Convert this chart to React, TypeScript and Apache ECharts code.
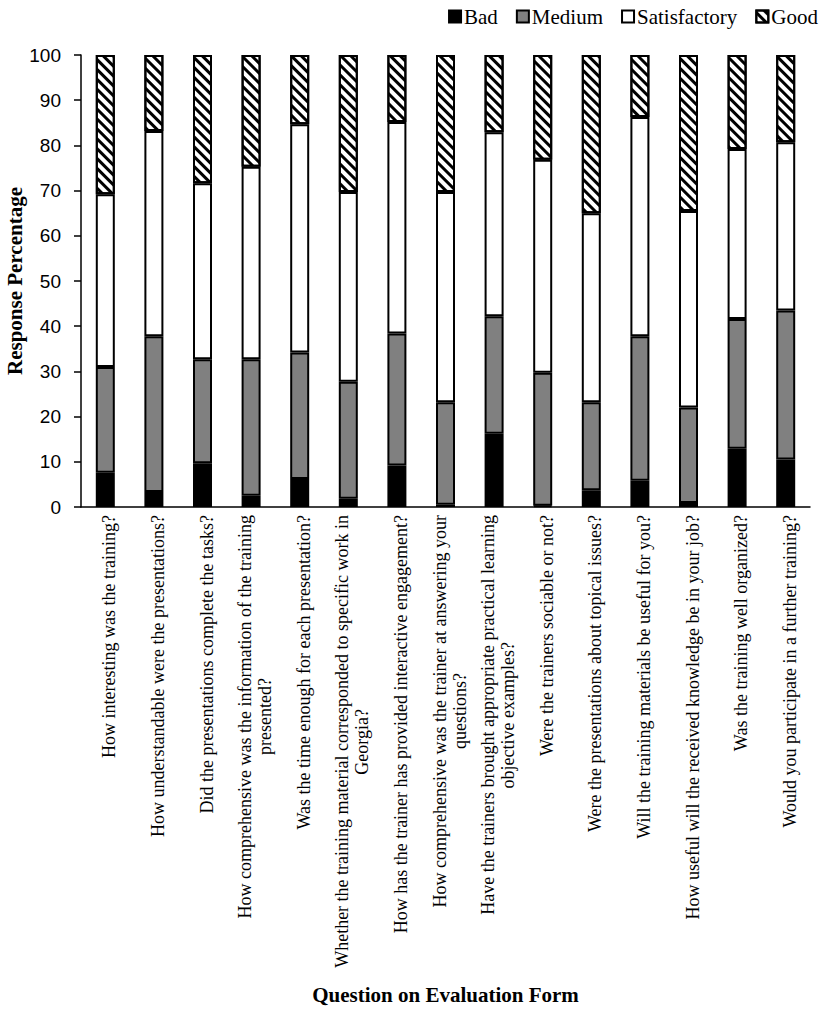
import React, { useEffect, useRef } from "react";
import * as echarts from "echarts";

const categories: string[] = [
  "How interesting was the training?",
  "How understandable were the presentations?",
  "Did the presentations complete the tasks?",
  "How comprehensive was the information of the training\npresented?",
  "Was the time enough for each presentation?",
  "Whether the training material corresponded to specific work in\nGeorgia?",
  "How has the trainer has provided interactive engagement?",
  "How comprehensive was the trainer at answering your\nquestions?",
  "Have the trainers brought appropriate practical learning\nobjective examples?",
  "Were the trainers sociable or not?",
  "Were the presentations about topical issues?",
  "Will the training materials be useful for you?",
  "How useful will the received knowledge be in your job?",
  "Was the training well organized?",
  "Would you participate in a further training?",
];

const bad: number[] = [7.6, 3.3, 9.7, 2.5, 6.2, 1.8, 9.2, 0.5, 16.2, 0.3, 3.7, 5.8, 0.9, 12.9, 10.5];
const medium: number[] = [23.4, 34.5, 23.0, 30.2, 28.0, 25.9, 29.2, 22.7, 26.0, 29.4, 19.5, 32.0, 21.1, 28.7, 33.0];
const satisfactory: number[] = [38.2, 45.4, 38.9, 42.6, 50.5, 42.0, 46.8, 46.5, 40.7, 47.1, 41.8, 48.5, 43.5, 37.6, 37.2];
const good: number[] = [30.8, 16.8, 28.4, 24.7, 15.3, 30.3, 14.8, 30.3, 17.1, 23.2, 35.0, 13.7, 34.5, 20.8, 19.3];

const seriesNames = ["Bad", "Medium", "Satisfactory", "Good"];

const SERIF = "'Liberation Serif', 'Times New Roman', serif";
const SANS = "'Liberation Sans', Arial, sans-serif";
const LABEL_SIZE = 18;

let measureCtx: CanvasRenderingContext2D | null = null;
function textWidth(s: string): number {
  if (!measureCtx) {
    measureCtx = document.createElement("canvas").getContext("2d");
  }
  if (!measureCtx) return s.length * LABEL_SIZE * 0.45;
  measureCtx.font = `${LABEL_SIZE}px ${SERIF}`;
  return measureCtx.measureText(s).width;
}

// Multi-line labels: lines centred on each other, the block anchored at the axis.
function formatLabel(v: string): string {
  const lines = v.split("\n");
  if (lines.length === 1) return `{c|${v}}`;
  const widths = lines.map(textWidth);
  const maxW = Math.max(...widths);
  return lines
    .map((l, i) => {
      const pad = Math.round((maxW - widths[i]) / 2);
      return pad > 0 ? `{c|${l}}{sp${pad}|}` : `{c|${l}}`;
    })
    .join("\n");
}

function buildRich(): Record<string, any> {
  const rich: Record<string, any> = {
    c: { align: "right", fontFamily: SERIF, fontSize: LABEL_SIZE, lineHeight: 20, color: "#000" },
  };
  categories.forEach((v) => {
    const lines = v.split("\n");
    if (lines.length < 2) return;
    const widths = lines.map(textWidth);
    const maxW = Math.max(...widths);
    widths.forEach((w) => {
      const pad = Math.round((maxW - w) / 2);
      if (pad > 0) {
        rich[`sp${pad}`] = { align: "right", width: pad, fontSize: LABEL_SIZE, lineHeight: 20 };
      }
    });
  });
  return rich;
}

export default function App() {
  const ref = useRef<HTMLDivElement>(null);

  useEffect(() => {
    if (!ref.current) return;
    const chart = echarts.init(ref.current, undefined, { renderer: "svg" });

    const baseItem = { borderColor: "#000", borderWidth: 2 };
    const mk = (name: string, data: number[], itemStyle: any) => ({
      name,
      type: "bar",
      stack: "total",
      barWidth: 19,
      data,
      itemStyle: { ...baseItem, ...itemStyle },
      emphasis: { disabled: true },
    });

    chart.setOption({
      animation: false,
      backgroundColor: "#fff",
      legend: {
        data: seriesNames,
        right: 4,
        top: 1,
        icon: "rect",
        itemWidth: 12,
        itemHeight: 12,
        itemGap: 18,
        textStyle: { fontFamily: SERIF, fontSize: 21, color: "#000", padding: [0, 0, 0, -2] },
      },
      grid: {
        left: 81,
        right: 17,
        top: 55,
        bottom: 506,
        containLabel: false,
        outerBoundsMode: "none",
      },
      xAxis: {
        type: "category",
        data: categories,
        name: "Question on Evaluation Form",
        nameLocation: "middle",
        nameGap: 477,
        nameMoveOverlap: false,
        nameTextStyle: { fontFamily: SERIF, fontSize: 21, fontWeight: "bold", color: "#000" },
        axisLine: { lineStyle: { color: "#000", width: 1.5 } },
        axisTick: { show: false },
        axisLabel: {
          interval: 0,
          rotate: 90,
          margin: 8,
          padding: [8, 0, 0, 0],
          formatter: formatLabel,
          rich: buildRich(),
        },
      },
      yAxis: {
        type: "value",
        min: 0,
        max: 100,
        interval: 10,
        name: "Response Percentage",
        nameLocation: "middle",
        nameGap: 56,
        nameMoveOverlap: false,
        nameTextStyle: { fontFamily: SERIF, fontSize: 21, fontWeight: "bold", color: "#000" },
        axisLine: { show: true, lineStyle: { color: "#000", width: 1.5 } },
        axisTick: { show: true, length: 7, lineStyle: { color: "#000", width: 1.5 } },
        axisLabel: { margin: 20, fontFamily: SANS, fontSize: 19, color: "#000" },
        splitLine: { show: false },
      },
      series: [
        mk("Bad", bad, { color: "#000" }),
        mk("Medium", medium, { color: "#808080" }),
        mk("Satisfactory", satisfactory, { color: "#fff" }),
        mk("Good", good, {
          color: "#fff",
          decal: {
            symbol: "rect",
            symbolSize: 1,
            color: "#000",
            backgroundColor: "#fff",
            dashArrayX: [1, 0],
            dashArrayY: [3, 4],
            rotation: Math.PI / 4,
          },
        }),
      ],
    });

    return () => chart.dispose();
  }, []);

  return (
    <div
      ref={ref}
      style={{ position: "absolute", left: 0, top: 0, width: 827, height: 1013, background: "#fff" }}
    />
  );
}
